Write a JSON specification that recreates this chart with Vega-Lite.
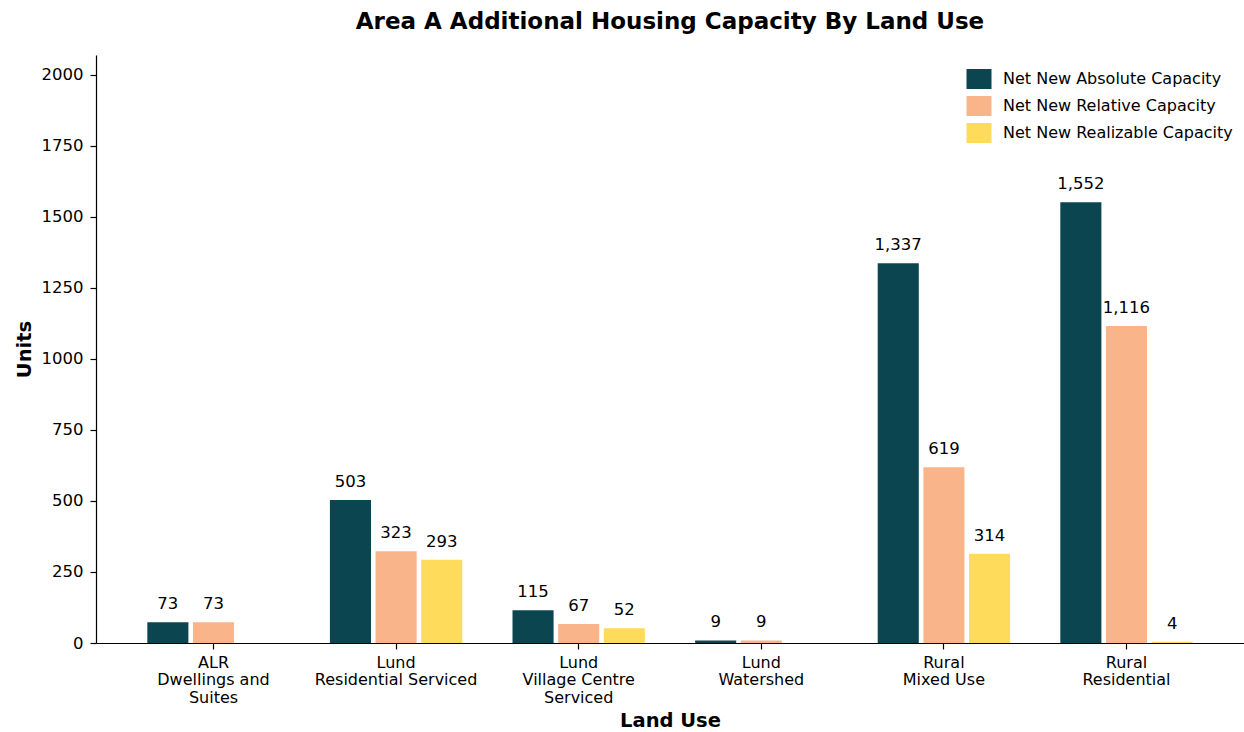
{
  "$schema": "https://vega.github.io/schema/vega-lite/v6.json",
  "width": 1148,
  "height": 588,
  "autosize": {"type": "none"},
  "padding": {"left": 96, "top": 55, "right": 0, "bottom": 89},
  "title": {
    "text": "Area A Additional Housing Capacity By Land Use",
    "font": "DejaVu Sans",
    "fontSize": 23,
    "fontWeight": "bold",
    "color": "black",
    "anchor": "middle",
    "offset": 21
  },
  "data": {
    "values": [
      {"land": "ALR\nDwellings and\nSuites", "series": "Net New Absolute Capacity", "units": 73},
      {"land": "ALR\nDwellings and\nSuites", "series": "Net New Relative Capacity", "units": 73},
      {"land": "Lund\nResidential Serviced", "series": "Net New Absolute Capacity", "units": 503},
      {"land": "Lund\nResidential Serviced", "series": "Net New Relative Capacity", "units": 323},
      {"land": "Lund\nResidential Serviced", "series": "Net New Realizable Capacity", "units": 293},
      {"land": "Lund\nVillage Centre\nServiced", "series": "Net New Absolute Capacity", "units": 115},
      {"land": "Lund\nVillage Centre\nServiced", "series": "Net New Relative Capacity", "units": 67},
      {"land": "Lund\nVillage Centre\nServiced", "series": "Net New Realizable Capacity", "units": 52},
      {"land": "Lund\nWatershed", "series": "Net New Absolute Capacity", "units": 9},
      {"land": "Lund\nWatershed", "series": "Net New Relative Capacity", "units": 9},
      {"land": "Rural\nMixed Use", "series": "Net New Absolute Capacity", "units": 1337},
      {"land": "Rural\nMixed Use", "series": "Net New Relative Capacity", "units": 619},
      {"land": "Rural\nMixed Use", "series": "Net New Realizable Capacity", "units": 314},
      {"land": "Rural\nResidential", "series": "Net New Absolute Capacity", "units": 1552},
      {"land": "Rural\nResidential", "series": "Net New Relative Capacity", "units": 1116},
      {"land": "Rural\nResidential", "series": "Net New Realizable Capacity", "units": 4}
    ]
  },
  "encoding": {
    "x": {
      "field": "land",
      "type": "nominal",
      "sort": null,
      "scale": {"paddingInner": 0, "paddingOuter": 0.1435},
      "axis": {
        "title": "Land Use",
        "labelAngle": 0,
        "labelExpr": "split(datum.label, '\\n')",
        "labelLineHeight": 17.5,
        "labelBaseline": "top",
        "labelFontSize": 16,
        "labelPadding": 5,
        "titleFontSize": 19.5,
        "titlePadding": 6
      }
    },
    "xOffset": {
      "field": "series",
      "type": "nominal",
      "sort": ["Net New Absolute Capacity", "Net New Relative Capacity", "Net New Realizable Capacity"],
      "scale": {
        "domain": ["Net New Absolute Capacity", "Net New Relative Capacity", "Net New Realizable Capacity"],
        "paddingInner": 0.1,
        "paddingOuter": 0.55
      }
    },
    "y": {
      "field": "units",
      "type": "quantitative",
      "scale": {"domain": [0, 2070], "nice": false, "zero": true},
      "axis": {
        "title": "Units",
        "format": "d",
        "values": [0, 250, 500, 750, 1000, 1250, 1500, 1750, 2000],
        "labelFontSize": 16.5,
        "labelPadding": 7,
        "titleFontSize": 19.5,
        "titlePadding": 7
      }
    }
  },
  "layer": [
    {
      "mark": {"type": "bar"},
      "encoding": {
        "color": {
          "field": "series",
          "type": "nominal",
          "sort": ["Net New Absolute Capacity", "Net New Relative Capacity", "Net New Realizable Capacity"],
          "scale": {
            "domain": ["Net New Absolute Capacity", "Net New Relative Capacity", "Net New Realizable Capacity"],
            "range": ["#0b4650", "#f9b48a", "#ffdb5c"]
          },
          "legend": {
            "title": null,
            "orient": "none",
            "legendX": 873,
            "legendY": 14,
            "symbolType": "M-1.25,-1L1.25,-1L1.25,1L-1.25,1Z",
            "symbolSize": 400,
            "symbolStrokeWidth": 0,
            "labelFontSize": 16,
            "labelLimit": 0,
            "labelOffset": 14,
            "rowPadding": 7,
            "padding": 0
          }
        }
      }
    },
    {
      "mark": {"type": "text", "baseline": "alphabetic", "dy": -13, "fontSize": 16.5, "font": "DejaVu Sans", "color": "black"},
      "encoding": {
        "text": {"field": "units", "type": "quantitative", "format": ","}
      }
    }
  ],
  "config": {
    "font": "DejaVu Sans",
    "view": {"stroke": null},
    "axis": {
      "grid": false,
      "domainColor": "black",
      "domainWidth": 1.2,
      "tickColor": "black",
      "tickWidth": 1.2,
      "tickSize": 6,
      "labelColor": "black",
      "titleColor": "black",
      "labelFont": "DejaVu Sans",
      "titleFont": "DejaVu Sans",
      "titleFontWeight": "bold"
    },
    "legend": {"labelFont": "DejaVu Sans", "labelColor": "black"}
  }
}
